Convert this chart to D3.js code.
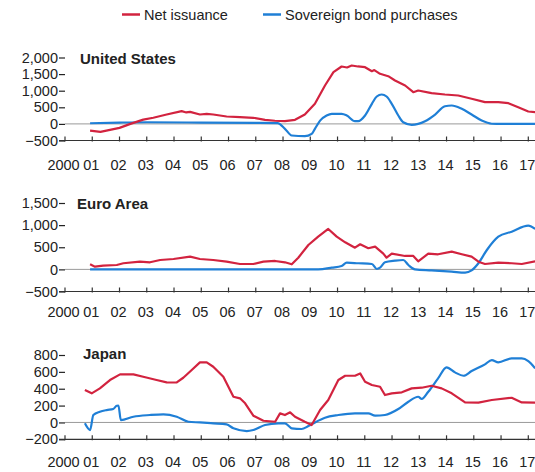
<!DOCTYPE html>
<html><head><meta charset="utf-8">
<script src="https://cdn.jsdelivr.net/npm/d3@7"></script>
<style>
body{margin:0;background:#fff;}
svg{display:block;font-family:"Liberation Sans",Arial,sans-serif;}
</style></head>
<body><svg id="c" width="535" height="472"></svg>
<script>
// ---------- DATA ----------
const years = d3.range(2000, 2018);
const yearLabels = ["2000","01","02","03","04","05","06","07","08","09","10","11","12","13","14","15","16","17"];
const seriesNames = ["Net issuance", "Sovereign bond purchases"];

// United States (USD billions)
const usNetT = [2000.92,2001.3,2002.0,2002.4,2002.87,2003.24,2003.73,2004.28,2004.45,2004.59,2004.95,2005.2,2005.44,2005.93,2006.42,2006.91,2007.34,2007.7,2008.07,2008.44,2008.8,2009.17,2009.54,2009.85,2010.15,2010.35,2010.52,2010.75,2011.01,2011.26,2011.35,2011.56,2011.86,2012.11,2012.48,2012.78,2012.96,2013.45,2013.94,2014.43,2014.92,2015.41,2015.9,2016.27,2016.63,2017.0,2017.25];
const usNetV = [-200,-240,-120,0,130,185,283,383,345,364,283,300,283,223,202,184,123,95,81,123,283,605,1157,1557,1729,1700,1759,1730,1708,1587,1620,1509,1437,1307,1157,955,1006,925,885,855,756,654,654,623,503,373,352];
const usBuyT = [2000.92,2002.0,2003.0,2005.0,2007.0,2007.8,2008.07,2008.32,2008.8,2009.05,2009.17,2009.36,2009.6,2009.79,2010.15,2010.34,2010.64,2010.76,2011.01,2011.26,2011.44,2011.62,2011.8,2011.99,2012.23,2012.41,2012.72,2012.96,2013.21,2013.58,2013.94,2014.19,2014.56,2014.92,2015.29,2015.66,2016.0,2017.25];
const usBuyV = [20,40,50,40,30,25,-148,-350,-370,-300,-148,100,253,304,304,253,81,81,253,605,825,885,825,605,253,50,-27,0,81,283,533,554,454,283,100,5,0,0];

// Euro Area (EUR billions)
const euNetT = [2000.92,2001.1,2001.4,2001.9,2002.14,2002.75,2003.12,2003.49,2003.98,2004.59,2004.95,2005.44,2005.93,2006.42,2006.91,2007.28,2007.71,2008.07,2008.32,2008.56,2008.93,2009.29,2009.66,2009.97,2010.28,2010.64,2010.83,2011.13,2011.38,2011.68,2011.8,2011.99,2012.48,2012.78,2012.96,2013.33,2013.69,2014.19,2014.56,2014.92,2015.17,2015.41,2015.9,2016.39,2016.76,2017.25];
const euNetV = [115,61,84,99,138,174,160,212,235,287,235,212,174,122,122,174,190,160,115,264,551,739,913,739,612,490,567,477,513,355,264,355,303,303,183,355,341,400,341,287,174,122,151,138,122,183];
const euBuyT = [2000.92,2009.29,2009.79,2010.15,2010.34,2010.76,2011.26,2011.44,2011.56,2011.74,2012.11,2012.41,2012.6,2012.84,2013.45,2014.19,2014.68,2014.92,2015.17,2015.48,2015.9,2016.39,2017.0,2017.25];
const euBuyV = [0,0,38,77,151,138,122,9,38,160,197,212,99,0,-23,-52,-75,-23,138,438,739,852,988,913];

// Japan (JPY trillions)
const jpNetT = [2000.73,2000.98,2001.28,2001.65,2002.02,2002.51,2002.87,2003.36,2003.73,2004.1,2004.34,2004.65,2004.95,2005.2,2005.44,2005.81,2006.18,2006.42,2006.61,2006.91,2007.28,2007.71,2007.89,2008.07,2008.26,2008.44,2008.8,2009.05,2009.36,2009.66,2010.03,2010.28,2010.64,2010.83,2011.01,2011.26,2011.56,2011.74,2011.99,2012.36,2012.72,2013.09,2013.45,2013.82,2014.19,2014.68,2015.17,2015.66,2016.39,2016.76,2017.25];
const jpNetV = [384,345,404,503,570,570,542,503,475,474,530,622,713,713,661,542,305,286,227,80,20,8,108,88,120,68,8,-31,147,266,503,554,554,582,483,444,423,325,345,357,404,412,435,404,345,238,236,266,293,238,234];
const jpBuyT = [2000.73,2000.92,2001.04,2001.28,2001.53,2001.77,2001.9,2001.96,2002.05,2002.51,2003.12,2003.61,2004.1,2004.53,2004.95,2005.44,2005.93,2006.18,2006.67,2006.91,2007.34,2007.83,2008.07,2008.32,2008.68,2008.93,2009.17,2009.54,2010.03,2010.64,2011.13,2011.38,2011.74,2012.23,2012.6,2012.96,2013.09,2013.33,2013.69,2014.0,2014.31,2014.62,2014.92,2015.41,2015.66,2015.9,2016.39,2016.76,2017.0,2017.25];
const jpBuyV = [-11,-90,88,127,147,159,198,200,28,68,88,96,68,8,0,-11,-23,-70,-102,-90,-31,-11,-11,-70,-78,-43,0,56,88,108,108,80,88,159,246,305,278,364,523,653,594,554,610,689,740,713,760,760,728,642];

const panels = [
  {title:"United States", ticks:[-500,0,500,1000,1500,2000], dom:[-500,2000], rng:[140.5,57.5], axisY:140.5, titleY:63.5, titleX:80, labelY:170,
   net:[usNetT,usNetV], buy:[usBuyT,usBuyV]},
  {title:"Euro Area", ticks:[-500,0,500,1000,1500], dom:[-500,1500], rng:[291.5,203], axisY:291.5, titleY:209, titleX:77, labelY:317,
   net:[euNetT,euNetV], buy:[euBuyT,euBuyV]},
  {title:"Japan", ticks:[-200,0,200,400,600,800], dom:[-200,800], rng:[439.3,355], axisY:439.3, titleY:359, titleX:83, labelY:467,
   net:[jpNetT,jpNetV], buy:[jpBuyT,jpBuyV]}
];

const RED = "#d2233f", BLUE = "#1f7fd6", TXT = "#222";
const svg = d3.select("#c");
const x = d3.scaleLinear().domain([2000, 2017]).range([65, 528.3]);
const fmt = d3.format(",");

// Legend
const leg = svg.append("g");
[[122, RED, seriesNames[0]], [263, BLUE, seriesNames[1]]].forEach(([lx, c, t]) => {
  leg.append("line").attr("x1", lx).attr("x2", lx + 18).attr("y1", 14.5).attr("y2", 14.5)
     .attr("stroke", c).attr("stroke-width", 2.5);
  leg.append("text").attr("x", lx + 22).attr("y", 19.5).attr("font-size", 14.5).attr("fill", TXT).text(t);
});

panels.forEach(p => {
  const y = d3.scaleLinear().domain(p.dom).range(p.rng);
  const g = svg.append("g");
  // zero line
  g.append("line").attr("x1", 65).attr("x2", 535).attr("y1", y(0)).attr("y2", y(0))
    .attr("stroke", "#9a9a9a").attr("stroke-width", 1);
  // y axis labels and tick dashes
  const yAx = d3.axisLeft(y).tickValues(p.ticks).tickSize(6).tickPadding(1)
    .tickFormat(d => d < 0 ? "\u2212" + fmt(-d) : fmt(d));
  const ya = g.append("g").attr("transform", "translate(65,0)").call(yAx);
  ya.select(".domain").remove();
  ya.selectAll("line").attr("stroke", TXT).attr("stroke-width", 1.2);
  ya.selectAll("text").attr("font-size", 14.5).attr("fill", TXT)
    .attr("font-family", "'Liberation Sans',Arial,sans-serif");
  // x axis
  g.append("line").attr("x1", 59).attr("x2", 535).attr("y1", p.axisY).attr("y2", p.axisY)
    .attr("stroke", "#333").attr("stroke-width", 1.2);
  const xAx = d3.axisBottom(x).tickValues(years).tickSize(0).tickFormat((d, i) => yearLabels[i]);
  const xa = g.append("g").attr("transform", `translate(0,${p.axisY})`).call(xAx);
  xa.select(".domain").remove();
  xa.selectAll("text").attr("font-size", 14.5).attr("fill", TXT).attr("dy", null)
    .attr("y", p.labelY - p.axisY).attr("x", (d, i) => i === 0 ? -2 : -1.5)
    .attr("font-family", "'Liberation Sans',Arial,sans-serif");
  g.selectAll(".xt").data(years).enter().append("line")
    .attr("x1", d => x(d)).attr("x2", d => x(d)).attr("y1", p.axisY - 4).attr("y2", p.axisY + 1)
    .attr("stroke", "#333").attr("stroke-width", 1.2);
  // title
  g.append("text").attr("x", p.titleX).attr("y", p.titleY).attr("font-size", 15).attr("font-weight", "bold")
    .attr("fill", TXT).text(p.title);
  // lines
  const smooth = d3.line().x(d => x(d[0])).y(d => y(d[1])).curve(d3.curveMonotoneX);
  const rough = d3.line().x(d => x(d[0])).y(d => y(d[1])).curve(d3.curveLinear);
  const toPts = ([t, v]) => t.map((tt, i) => [tt, v[i]]);
  g.append("path").datum(toPts(p.buy)).attr("d", smooth).attr("fill", "none")
    .attr("stroke", BLUE).attr("stroke-width", 2.2).attr("stroke-linejoin", "round");
  g.append("path").datum(toPts(p.net)).attr("d", rough).attr("fill", "none")
    .attr("stroke", RED).attr("stroke-width", 2.2).attr("stroke-linejoin", "round");
});
</script></body></html>
